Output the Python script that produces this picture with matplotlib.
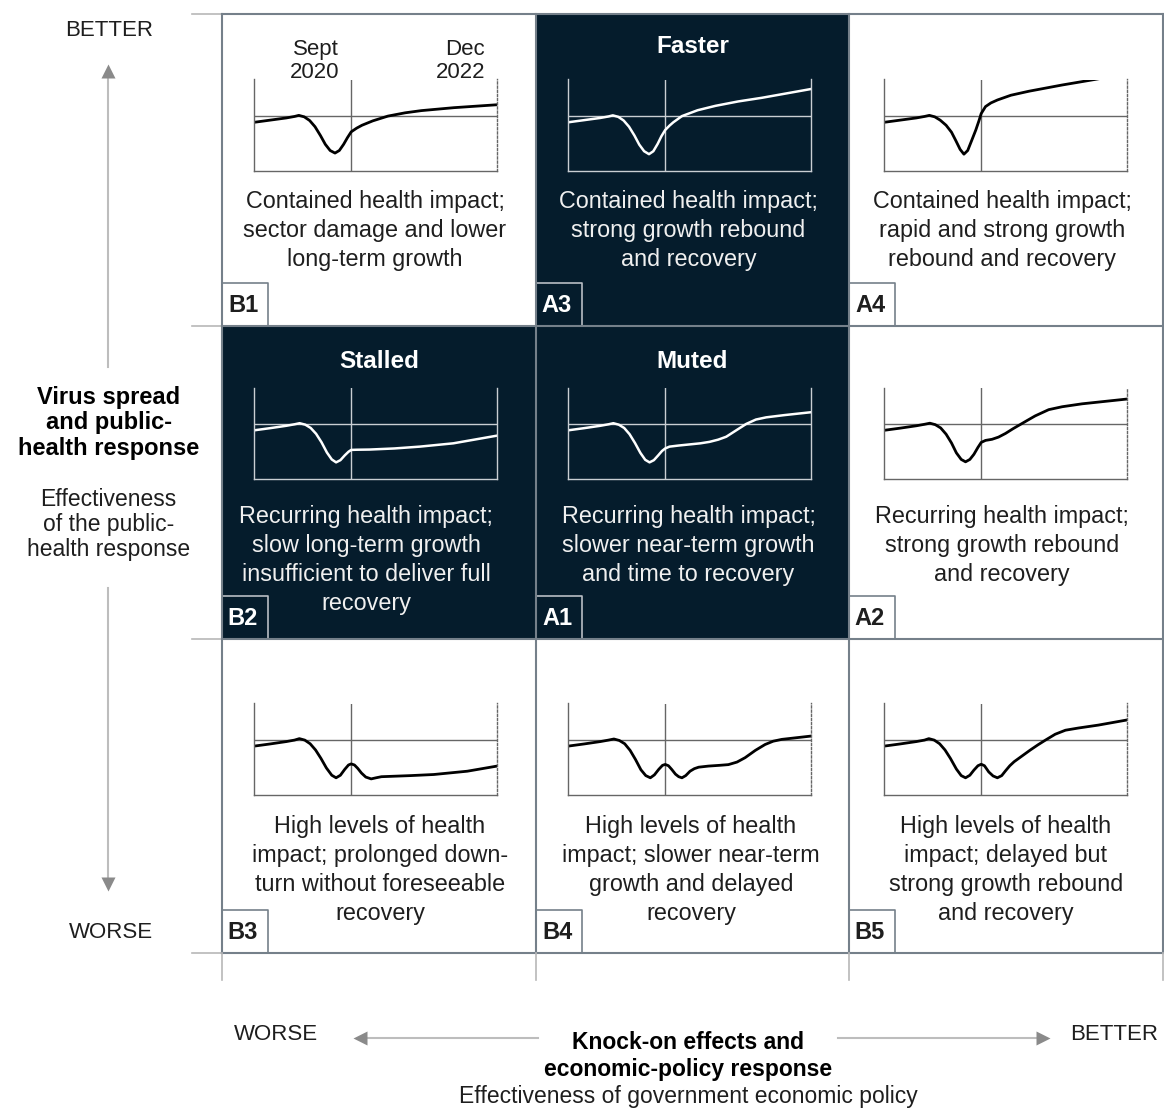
import matplotlib.pyplot as plt
from matplotlib.patches import Rectangle

plt.rcParams['font.family'] = ['Liberation Sans', 'DejaVu Sans']

# ---------------------------------------------------------------------------
# Data: scenario grid (row-major, top-left first)
# ---------------------------------------------------------------------------

CELL_IDS = ['B1', 'A3', 'A4', 'B2', 'A1', 'A2', 'B3', 'B4', 'B5']
CELL_TITLES = ['', 'Faster', '', 'Stalled', 'Muted', '', '', '', '']
CELL_HIGHLIGHT = [False, True, False, True, True, False, False, False, False]
CELL_TEXT = [
    'Contained health impact;\nsector damage and lower\nlong-term growth',
    'Contained health impact;\nstrong growth rebound\nand recovery',
    'Contained health impact;\nrapid and strong growth\nrebound and recovery',
    'Recurring health impact;\nslow long-term growth\ninsufficient to deliver full\nrecovery',
    'Recurring health impact;\nslower near-term growth\nand time to recovery',
    'Recurring health impact;\nstrong growth rebound\nand recovery',
    'High levels of health\nimpact; prolonged down-\nturn without foreseeable\nrecovery',
    'High levels of health\nimpact; slower near-term\ngrowth and delayed\nrecovery',
    'High levels of health\nimpact; delayed but\nstrong growth rebound\nand recovery',
]

# GDP paths: months relative to Sept 2020, index with pre-crisis level = 100
B1_X = [-18, -15, -12, -10.5, -9.7, -8.7, -7.7, -6.7, -5.7, -4.8, -3.9, -3.0, -2.2, -1.4,
        -0.7, 0, 1, 2, 4, 6.8, 10, 13, 19, 27]
B1_Y = [98.3, 98.9, 99.5, 99.9, 100.2, 99.8, 98.8, 97.1, 94.7, 92.3, 90.6, 89.9, 90.6, 92.3,
        94.1, 95.7, 96.7, 97.5, 98.7, 100.0, 100.9, 101.5, 102.3, 103.1]

A3_X = [-18, -15, -12, -10.5, -9.7, -8.7, -7.7, -6.7, -5.7, -4.8, -3.9, -3.0, -2.2, -1.4,
        -0.7, 0, 0.8, 1.5, 3.1, 6, 9.3, 13.5, 17.9, 27]
A3_Y = [98.3, 98.9, 99.5, 99.9, 100.2, 99.8, 98.8, 97.1, 94.7, 92.2, 90.4, 89.6, 90.4, 92.4,
        94.5, 96.2, 97.4, 98.3, 100.0, 101.6, 102.8, 104.0, 105.0, 107.4]

A4_X = [-18, -15, -12, -10.5, -9.6, -8.6, -7.6, -6.5, -5.5, -4.7, -3.9, -3.2, -2.5, -1.8,
        -1.0, -0.4, 0, 0.8, 1.8, 3, 5.5, 8.85, 15, 21, 27]
A4_Y = [98.3, 98.9, 99.5, 99.9, 100.2, 99.8, 98.9, 97.5, 95.6, 93.3, 90.9, 89.6, 90.6, 93.2,
        96.2, 98.8, 100.7, 102.6, 103.6, 104.4, 105.7, 106.8, 108.5, 110.0, 111.6]

B2_X = [-18, -15, -12, -10.5, -9.55, -8.5, -7.5, -6.5, -5.5, -4.5, -3.6, -2.8, -2.0, -1.2,
        -0.5, 0, 1, 3.4, 8, 12.7, 18.9, 27]
B2_Y = [98.35, 98.95, 99.6, 100.0, 100.3, 99.9, 99.0, 97.4, 95.1, 92.3, 90.4, 89.6, 90.2, 91.5,
        92.5, 93.0, 93.05, 93.1, 93.4, 93.9, 94.8, 96.9]

A1_X = [-18, -15, -12, -10.5, -9.6, -8.6, -7.6, -6.6, -5.6, -4.6, -3.7, -2.9, -2.1, -1.3,
        -0.6, 0, 0.8, 2.5, 4.5, 6.5, 8.2, 9.8, 11.3, 13.2, 15.0, 16.8, 18.7, 22, 27]
A1_Y = [98.35, 98.95, 99.6, 100.0, 100.3, 99.9, 99.0, 97.3, 94.9, 92.2, 90.3, 89.6, 90.2, 91.5,
        92.7, 93.4, 93.9, 94.2, 94.5, 94.8, 95.2, 95.8, 96.6, 98.4, 100.1, 101.3, 101.9, 102.5,
        103.3]

A2_X = [-18, -15, -12, -10.5, -9.5, -8.5, -7.5, -6.5, -5.5, -4.6, -3.7, -2.9, -2.1, -1.35,
        -0.6, 0, 0.8, 2.0, 3.2, 4.5, 5.9, 7.3, 8.7, 10, 12.5, 15, 18.7, 27]
A2_Y = [98.35, 98.95, 99.6, 100.0, 100.3, 99.9, 99.0, 97.3, 94.9, 92.2, 90.4, 89.75, 90.4, 91.8,
        93.7, 95.05, 95.6, 95.9, 96.5, 97.5, 98.8, 100.0, 101.2, 102.3, 104.0, 104.8, 105.6, 106.9]

B3_X = [-18, -15, -12, -10.5, -9.6, -8.6, -7.6, -6.6, -5.6, -4.6, -3.6, -2.8, -2.0, -1.2,
        -0.5, 0, 0.6, 1.2, 1.9, 2.7, 3.7, 4.6, 5.6, 7.4, 11, 15.3, 21.5, 27]
B3_Y = [98.35, 98.95, 99.6, 100.0, 100.4, 100.0, 99.0, 97.3, 95.0, 92.4, 90.4, 89.7, 90.4, 92.0,
        93.2, 93.5, 93.2, 92.3, 91.0, 89.9, 89.4, 89.7, 90.0, 90.1, 90.3, 90.6, 91.5, 92.9]

B4_X = [-18, -15, -12, -10.5, -9.5, -8.5, -7.5, -6.5, -5.5, -4.5, -3.6, -2.75, -2.0, -1.2,
        -0.5, 0, 0.6, 1.2, 1.9, 2.5, 3.1, 3.8, 4.6, 5.4, 6.2, 8, 10, 11.7, 13.3, 14.8, 16.7,
        18.5, 20, 21.6, 24, 27]
B4_Y = [98.35, 98.95, 99.6, 100.0, 100.3, 99.9, 99.0, 97.2, 94.7, 91.9, 90.3, 89.7, 90.5, 92.0,
        93.1, 93.35, 93.0, 92.0, 90.7, 90.0, 89.7, 90.3, 91.5, 92.2, 92.6, 92.9, 93.1, 93.3, 94.0,
        95.2, 97.2, 98.8, 99.7, 100.2, 100.6, 101.1]

B5_X = [-18, -15, -12, -10.5, -9.7, -8.7, -7.7, -6.7, -5.7, -4.6, -3.7, -2.9, -2.1, -1.35,
        -0.6, 0, 0.6, 1.4, 2.2, 3.0, 3.8, 4.5, 5.3, 6.1, 7.6, 9.1, 10.5, 11.9, 13.7, 15.6, 18,
        21.7, 27]
B5_Y = [98.35, 98.95, 99.6, 100.0, 100.4, 100.0, 99.0, 97.3, 95.0, 92.1, 90.3, 89.7, 90.4, 91.8,
        93.0, 93.4, 93.0, 91.3, 90.2, 89.7, 90.3, 91.6, 93.0, 94.1, 95.7, 97.3, 98.7, 100.0,
        101.6, 102.7, 103.3, 104.1, 105.5]

CURVES_X = [B1_X, A3_X, A4_X, B2_X, A1_X, A2_X, B3_X, B4_X, B5_X]
CURVES_Y = [B1_Y, A3_Y, A4_Y, B2_Y, A1_Y, A2_Y, B3_Y, B4_Y, B5_Y]

TIMELINE_LABELS = ['Sept\n2020', 'Dec\n2022']
TIMELINE_MONTHS = [0, 27]
MONTH_RANGE = (-18, 27)
INDEX_RANGE = (85, 110)
PRE_CRISIS = 100

# ---------------------------------------------------------------------------
# Layout (pixels)
# ---------------------------------------------------------------------------

W, H = 1164, 1110
COL_EDGES = [222, 536, 849, 1163]
ROW_EDGES = [14, 326, 639, 953]
NAVY = '#051c2c'
GRID = '#75808a'
STUB = '#b8b8b8'
INK = '#1e1e1e'

CHART_DX = [32, 32, 35]          # frame left offset per column
CHART_DY = [65.5, 61.7, 64.5]    # frame top offset per row
CHART_W, CHART_H = 243, 91.5
TITLE_DY = [38.7, 41.7, 0]
TEXT_DY = [194.3, 197.3, 194.3]
TEXT_DX = [-4, -4, -4, -13, -4, -4, 1, -1.5, 0]
LINE_PITCH = 29

fig = plt.figure(figsize=(W / 100, H / 100), dpi=100)
bg = fig.add_axes([0, 0, 1, 1])
bg.set_xlim(0, W)
bg.set_ylim(H, 0)
bg.axis('off')

# cells
for i, cid in enumerate(CELL_IDS):
    r, c = divmod(i, 3)
    x0, x1 = COL_EDGES[c], COL_EDGES[c + 1]
    y0, y1 = ROW_EDGES[r], ROW_EDGES[r + 1]
    dark = CELL_HIGHLIGHT[i]
    fg = 'white' if dark else INK
    if dark:
        bg.add_patch(Rectangle((x0, y0), x1 - x0, y1 - y0, fc=NAVY, ec='none', zorder=0))

    cx = (x0 + x1) / 2
    if CELL_TITLES[i]:
        bg.text(cx, y0 + TITLE_DY[r], CELL_TITLES[i], ha='center', va='baseline',
                fontsize=17.5, fontweight='bold', color=fg, zorder=3)

    for k, line in enumerate(CELL_TEXT[i].split('\n')):
        bg.text(cx + TEXT_DX[i], y0 + TEXT_DY[r] + k * LINE_PITCH, line,
                ha='center', va='baseline', fontsize=16.8,
                color='#f0f0f0' if dark else INK, zorder=3)

    # label box in the bottom-left corner
    box_ec = '#b8bec4' if dark else GRID
    bg.plot([x0, x0 + 46, x0 + 46], [y1 - 43, y1 - 43, y1], color=box_ec, lw=1.2, zorder=4)
    bg.text(x0 + 21, y1 - 14, cid, ha='center', va='baseline', fontsize=17,
            fontweight='bold', color=fg, zorder=4)

    # mini chart
    fl = x0 + CHART_DX[c]
    ft = y0 + CHART_DY[r]
    ax = fig.add_axes([fl / W, 1 - (ft + CHART_H) / H, CHART_W / W, CHART_H / H])
    ax.set_xlim(*MONTH_RANGE)
    ax.set_ylim(*INDEX_RANGE)
    ax.set_facecolor('none')
    ax.set_xticks([])
    ax.set_yticks([])
    frame = '#c9ced3' if dark else '#666666'
    ax.spines['top'].set_visible(False)
    for side in ('left', 'bottom', 'right'):
        ax.spines[side].set_color(frame)
        ax.spines[side].set_linewidth(1.0)
    if not dark:
        ax.spines['right'].set_linestyle((0, (1.5, 1.5)))
    ax.axvline(0, color=frame, lw=1.0)
    ax.axhline(PRE_CRISIS, color=frame, lw=1.0)
    ax.plot(CURVES_X[i], CURVES_Y[i], color='white' if dark else 'black',
            lw=1.8 if dark else 2.0, solid_joinstyle='round', solid_capstyle='round')

    if cid == 'B1':
        span = MONTH_RANGE[1] - MONTH_RANGE[0]
        for lab, m in zip(TIMELINE_LABELS, TIMELINE_MONTHS):
            px = fl + (m - MONTH_RANGE[0]) / span * CHART_W - 12
            top, bot = lab.split('\n')
            bg.text(px, 55, top, ha='right', va='baseline', fontsize=16, color=INK)
            bg.text(px, 78.3, bot, ha='right', va='baseline', fontsize=16, color=INK)

# grid lines and stubs
for y in ROW_EDGES:
    bg.plot([192, COL_EDGES[0]], [y, y], color=STUB, lw=1.2, zorder=5)
    bg.plot([COL_EDGES[0], COL_EDGES[-1]], [y, y], color=GRID, lw=1.5, zorder=5)
for x in COL_EDGES:
    bg.plot([x, x], [ROW_EDGES[0], ROW_EDGES[-1]], color=GRID, lw=1.5, zorder=5)
    bg.plot([x, x], [ROW_EDGES[-1], 980], color=STUB, lw=1.2, zorder=5)

# vertical axis
ARROW_LINE = '#bdbdbd'
ARROW_HEAD = '#8a8a8a'
bg.plot([108, 108], [76, 367], color=ARROW_LINE, lw=1.5)
bg.plot([108, 108], [588, 879], color=ARROW_LINE, lw=1.5)
bg.plot(108, 71, marker='^', ms=10, color=ARROW_HEAD, mec='none')
bg.plot(108, 884, marker='v', ms=10, color=ARROW_HEAD, mec='none')
bg.text(109, 31, 'BETTER', ha='center', va='center', fontsize=16, color=INK)
bg.text(111, 933, 'WORSE', ha='center', va='center', fontsize=16, color=INK)
for k, line in enumerate(['Virus spread', 'and public-', 'health response']):
    bg.text(109, 404 + k * 25.5, line, ha='center', va='baseline', fontsize=17,
            fontweight='bold', color='black')
for k, line in enumerate(['Effectiveness', 'of the public-', 'health response']):
    bg.text(108.5, 506 + k * 25, line, ha='center', va='baseline', fontsize=16.5,
            color=INK)

# horizontal axis
bg.plot([365, 538], [1038, 1038], color=ARROW_LINE, lw=1.5)
bg.plot([838, 1043], [1038, 1038], color=ARROW_LINE, lw=1.5)
bg.plot(360, 1038, marker='<', ms=10, color=ARROW_HEAD, mec='none')
bg.plot(1043, 1038, marker='>', ms=10, color=ARROW_HEAD, mec='none')
bg.text(276, 1035, 'WORSE', ha='center', va='center', fontsize=16, color=INK)
bg.text(1114, 1035, 'BETTER', ha='center', va='center', fontsize=16, color=INK)
bg.text(688, 1049, 'Knock-on effects and', ha='center', va='baseline', fontsize=16.5,
        fontweight='bold', color='black')
bg.text(688, 1076, 'economic-policy response', ha='center', va='baseline', fontsize=16.5,
        fontweight='bold', color='black')
bg.text(688, 1103, 'Effectiveness of government economic policy', ha='center',
        va='baseline', fontsize=16.5, color=INK)

fig.savefig('out.png', dpi=100)
